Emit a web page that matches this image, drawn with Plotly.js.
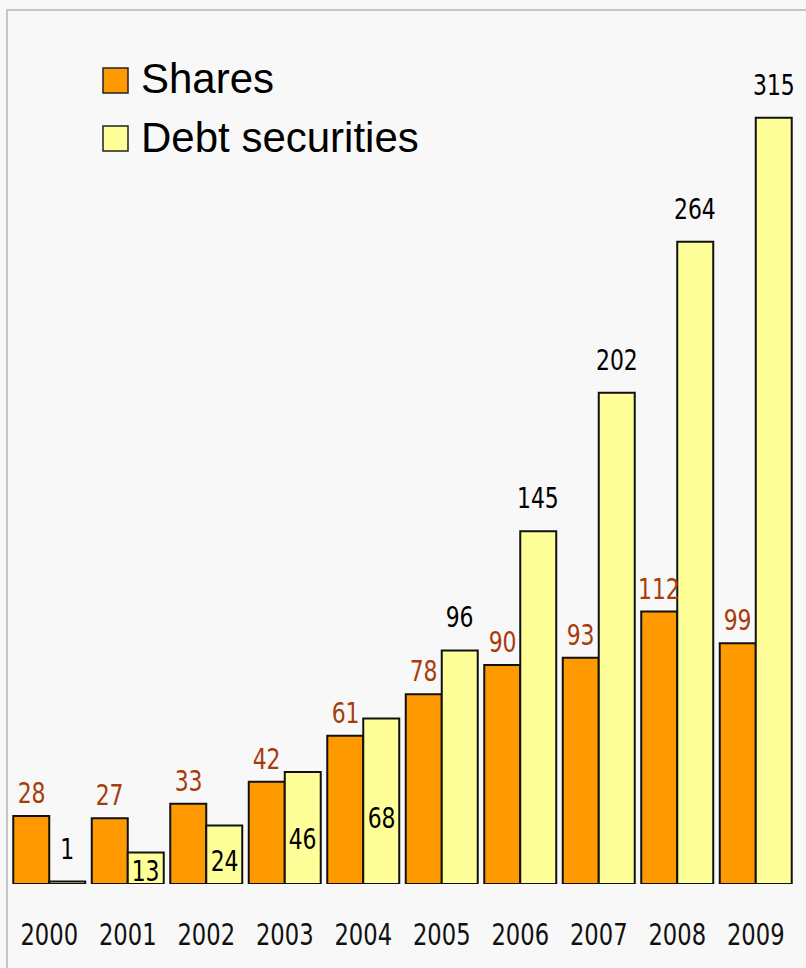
<!DOCTYPE html>
<html>
<head>
<meta charset="utf-8">
<script src="https://cdn.plot.ly/plotly-3.0.1.min.js"></script>
<style>
  html, body { margin: 0; padding: 0; background: #f8f8f8; }
  #chart { width: 806px; height: 968px; }
  #frame { position: absolute; left: 6px; top: 9px; width: 900px; height: 1000px;
           border-left: 2px solid #c6c6c6; border-top: 2px solid #c6c6c6; pointer-events: none; }
</style>
</head>
<body>
<div id="chart"></div>
<div id="frame"></div>
<script>
// ---- data ----
const years = ['2000', '2001', '2002', '2003', '2004', '2005', '2006', '2007', '2008', '2009'];
const shares = [28, 27, 33, 42, 61, 78, 90, 93, 112, 99];
const debt = [1, 13, 24, 46, 68, 96, 145, 202, 264, 315];
const seriesNames = ['Shares', 'Debt securities'];

// ---- styling / layout constants ----
const W = 806, H = 968;
const M = { l: 10, r: 11, t: 57, b: 84 };
const bargap = 0.083;
const colShares = '#FF9900';
const colDebt = '#FFFF99';
const colSharesLabel = '#A63C0B';
const narrow = '"Liberation Sans Narrow", "Arial Narrow", "DejaVu Sans Condensed", sans-serif';
const sans = '"Liberation Sans", Arial, sans-serif';
const insideDebtLabels = [1, 2, 3, 4]; // indices whose label sits inside the bar
const squeeze = 0.84; // horizontal condensing of the narrow number labels

const pw = W - M.l - M.r, ph = H - M.t - M.b;
const px2x = px => (px - M.l) / pw;
const px2y = py => (H - M.b - py) / ph;

const traces = [
  { type: 'bar', name: seriesNames[0], x: years, y: shares,
    marker: { color: colShares, line: { color: '#111', width: 2 } }, hoverinfo: 'skip' },
  { type: 'bar', name: seriesNames[1], x: years, y: debt,
    marker: { color: colDebt, line: { color: '#111', width: 2 } }, hoverinfo: 'skip' }
];

const half = (1 - bargap) / 4; // offset of each bar center from category center
const annotations = [];
shares.forEach((v, i) => {
  annotations.push({ x: i - half, y: v, xref: 'x', yref: 'y', text: String(v),
    showarrow: false, yanchor: 'bottom', yshift: 4,
    font: { family: narrow, size: 29, color: colSharesLabel } });
});
debt.forEach((v, i) => {
  const inside = insideDebtLabels.includes(i);
  annotations.push({ x: i + half, y: inside ? v * 0.4 : v, xref: 'x', yref: 'y', text: String(v),
    showarrow: false, yanchor: inside ? 'middle' : 'bottom', yshift: inside ? 0 : 14,
    font: { family: narrow, size: 29, color: '#000' } });
});

// custom legend
const legendRows = [{ name: seriesNames[0], color: colShares, top: 68 },
                    { name: seriesNames[1], color: colDebt, top: 126 }];
const shapes = [];
legendRows.forEach(r => {
  shapes.push({ type: 'rect', xref: 'paper', yref: 'paper',
    x0: px2x(103), x1: px2x(128), y0: px2y(r.top + 25), y1: px2y(r.top),
    fillcolor: r.color, line: { color: '#222', width: 1.5 } });
  annotations.push({ xref: 'paper', yref: 'paper', x: px2x(139), y: px2y(r.top + 11),
    xanchor: 'left', yanchor: 'middle', showarrow: false, text: r.name,
    font: { family: sans, size: 42, color: '#000' } });
});

const layout = {
  width: W, height: H,
  margin: M,
  paper_bgcolor: '#f8f8f8', plot_bgcolor: '#f8f8f8',
  showlegend: false,
  barmode: 'group', bargap: bargap, bargroupgap: 0,
  xaxis: { type: 'category', range: [-0.5, 9.5], showgrid: false, zeroline: false, showline: false,
    ticks: '', ticklabelstandoff: 30,
    tickfont: { family: narrow, size: 30, color: '#111' } },
  yaxis: { range: [0, 340], visible: false, showgrid: false, zeroline: false },
  annotations: annotations,
  shapes: shapes
};

Plotly.newPlot('chart', traces, layout, { staticPlot: true, displayModeBar: false }).then(gd => {
  // condense numeric labels horizontally around their own centre
  gd.querySelectorAll('g.xtick text, text.annotation-text').forEach(t => {
    if (!/^\d+$/.test(t.textContent.trim())) return;
    const bb = t.getBBox();
    const cx = bb.x + bb.width / 2;
    const tr = t.getAttribute('transform') || '';
    t.setAttribute('transform', tr + ' translate(' + cx + ',0) scale(' + squeeze + ',1) translate(' + (-cx) + ',0)');
  });
});
</script>
</body>
</html>
